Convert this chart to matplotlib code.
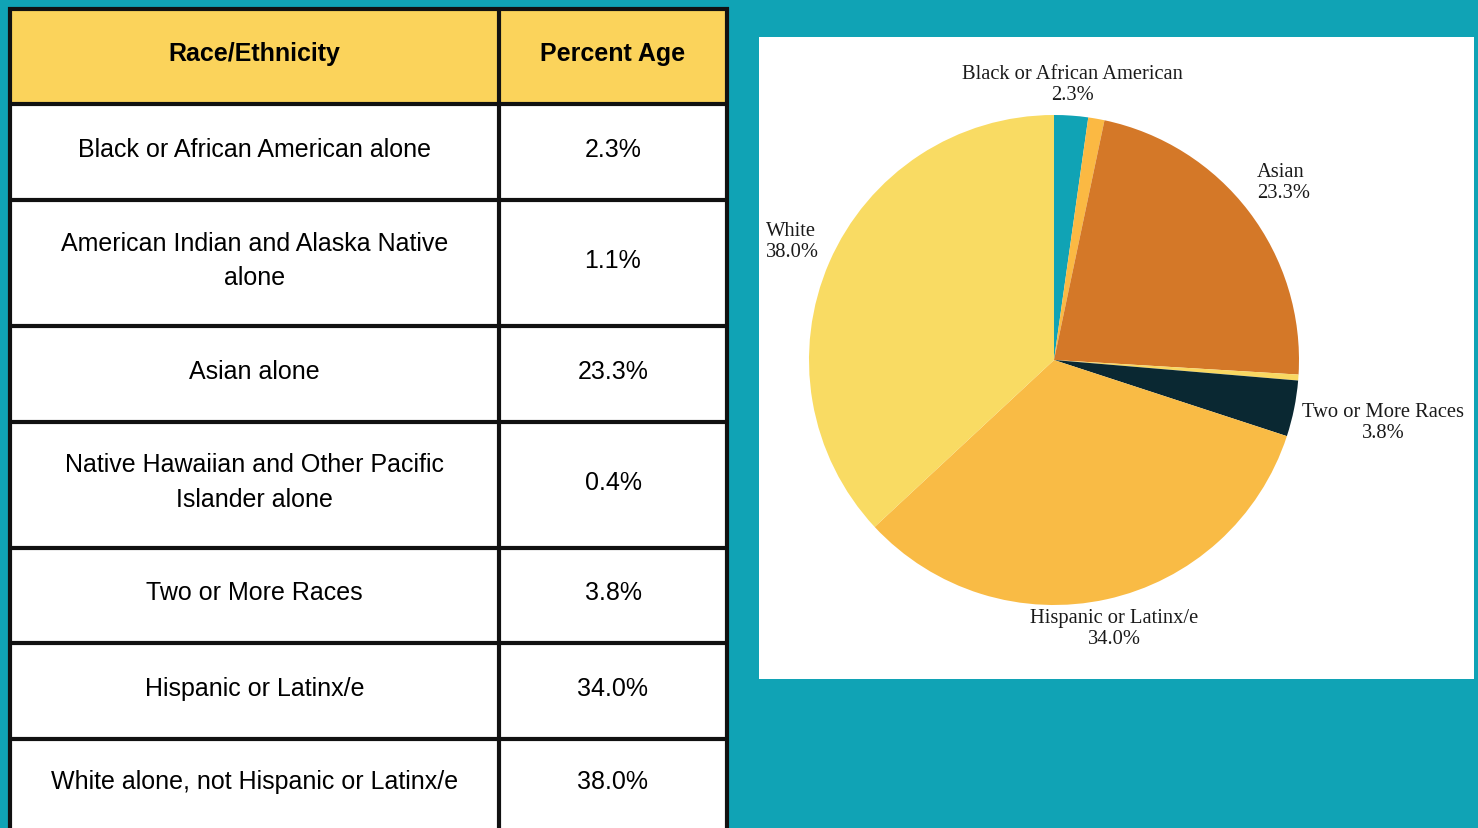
import matplotlib
matplotlib.use("Agg")
import matplotlib.pyplot as plt
from matplotlib.patches import Rectangle

# ---------------- data ----------------
table_categories = [
    "Black or African American alone",
    "American Indian and Alaska Native\nalone",
    "Asian alone",
    "Native Hawaiian and Other Pacific\nIslander alone",
    "Two or More Races",
    "Hispanic or Latinx/e",
    "White alone, not Hispanic or Latinx/e",
]
percent_values = [2.3, 1.1, 23.3, 0.4, 3.8, 34.0, 38.0]
pie_labels = ["Black or African American", "", "Asian", "", "Two or More Races",
              "Hispanic or Latinx/e", "White"]
header_labels = ["Race/Ethnicity", "Percent Age"]

# ---------------- style ----------------
W, H = 1478, 829
TEAL = "#10A3B5"
HEADER_YELLOW = "#FBD35B"
LINE = "#111111"
pie_colors = ["#10A3B5", "#FBB943", "#D47828", "#F9D862", "#0A2832", "#F9BB45", "#F9DB63"]

fig = plt.figure(figsize=(W / 100, H / 100), dpi=100, facecolor=TEAL)

# ---------------- table (pixel coordinate axes) ----------------
ax0 = fig.add_axes([0, 0, 1, 1])
ax0.set_xlim(0, W)
ax0.set_ylim(H, 0)
ax0.axis("off")

x_left, x_div, x_right = 10, 499, 727
row_lines = [9.5, 105, 200.5, 327, 422.7, 548.5, 644, 740, 870]

ax0.add_patch(Rectangle((x_left, row_lines[0]), x_right - x_left, H + 50, facecolor="white",
                        edgecolor="none", zorder=1))
ax0.add_patch(Rectangle((x_left, row_lines[0]), x_right - x_left, row_lines[1] - row_lines[0],
                        facecolor=HEADER_YELLOW, edgecolor="none", zorder=1))
for y in row_lines[:-1]:
    ax0.plot([x_left - 2, x_right + 2], [y, y], color=LINE, lw=3.0, solid_capstyle="butt", zorder=3)
for x in (x_left, x_div, x_right):
    ax0.plot([x, x], [row_lines[0] - 2, H + 10], color=LINE, lw=3.0, solid_capstyle="butt", zorder=3)

c1 = (x_left + x_div) / 2
c2 = (x_div + x_right) / 2
hy = (row_lines[0] + row_lines[1]) / 2 - 3
ax0.text(c1, hy, header_labels[0], ha="center", va="center", fontsize=18, fontweight="bold",
         family="Liberation Sans", color="#000000", zorder=4)
ax0.text(c2, hy, header_labels[1], ha="center", va="center", fontsize=18, fontweight="bold",
         family="Liberation Sans", color="#000000", zorder=4)
for i, (cat, val) in enumerate(zip(table_categories, percent_values)):
    yc = (row_lines[i + 1] + row_lines[i + 2]) / 2 - 3
    if i == len(table_categories) - 1:
        yc = 782
    ax0.text(c1, yc, cat, ha="center", va="center", fontsize=18, family="Liberation Sans",
             color="#000000", linespacing=1.55, zorder=4)
    ax0.text(c2, yc, f"{val:.1f}%", ha="center", va="center", fontsize=18,
             family="Liberation Sans", color="#000000", zorder=4)

# ---------------- white panel ----------------
ax0.add_patch(Rectangle((759, 37.5), 1473.5 - 759, 679.5 - 37.5, facecolor="white",
                        edgecolor="none", zorder=1))

# ---------------- pie ----------------
cx, cy, r = 1054, 361, 245
ax = fig.add_axes([(cx - r) / W, (H - cy - r) / H, 2 * r / W, 2 * r / H])
ax.pie(percent_values, colors=pie_colors, startangle=90, counterclock=False,
       wedgeprops=dict(linewidth=0))
ax.set_xlim(-1, 1)
ax.set_ylim(-1, 1)
ax.set_aspect("equal")
ax.axis("off")

label_pos = {
    0: (1072, 85, "center"),
    2: (1257, 183, "left"),
    4: (1302, 423, "left"),
    5: (1114, 629, "center"),
    6: (766, 242, "left"),
}
for i, (x, y, ha) in label_pos.items():
    ax0.text(x, y, f"{pie_labels[i]}\n{percent_values[i]:.1f}%", ha=ha, va="center",
             multialignment="center" if i in (0, 4, 5) else "left",
             fontsize=14.8, family="Liberation Serif", color="#1a1a1a", linespacing=1.08, zorder=5)

fig.savefig("out.png", dpi=100, facecolor=TEAL)
